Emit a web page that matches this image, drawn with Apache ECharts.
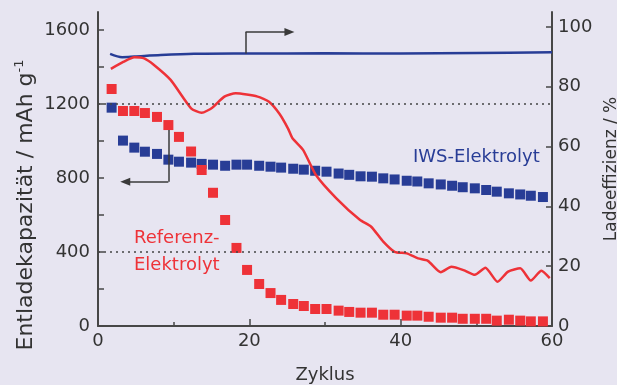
<!DOCTYPE html>
<html>
<head>
<meta charset="utf-8">
<script src="https://cdn.jsdelivr.net/npm/echarts@6/dist/echarts.min.js"></script>
<style>
html,body{margin:0;padding:0;background:#e7e5f1;}
#chart{width:617px;height:385px;}
</style>
</head>
<body>
<div id="chart"></div>
<script>
// ---- data ----
const squareCycles = [1.8,3.3,4.8,6.2,7.8,9.3,10.7,12.3,13.7,15.2,16.8,18.3,19.7,21.3,22.8,24.2,25.8,27.2,28.7,30.2,31.8,33.2,34.7,36.2,37.7,39.2,40.8,42.2,43.7,45.3,46.8,48.2,49.8,51.3,52.7,54.3,55.8,57.2,58.8];
const refCapacity = [1281,1162,1162,1151,1130,1086,1022,943,843,720,573,422,303,227,178,141,119,108,92,92,83,76,72,72,61,61,56,56,50,45,45,39,39,39,29,34,29,25,25];
const iwsCapacity = [1180,1002,964,942,930,899,888,883,876,872,866,872,872,866,861,856,850,845,839,834,824,817,809,807,798,792,785,781,771,765,758,750,744,735,726,717,711,704,697];

const iwsEffCycles = [1.6,3.2,4.8,8.3,12.7,20,30,40,50,60];
const iwsEfficiency = [91.0,89.9,90.1,90.6,91.0,91.1,91.2,91.1,91.3,91.5];

const refEffCycles = [1.7,3.4,4.8,6.1,7.4,9.6,12.3,13.7,15.1,16.7,18.2,21.1,22.6,24.0,25.1,25.7,27.1,28.8,31.5,34.6,36.1,37.7,39.2,40.8,42.3,43.6,45.3,46.7,48.3,49.8,51.2,52.8,54.2,55.8,57.2,58.6,59.7];
const refEfficiency = [86.0,88.4,89.9,89.5,87.3,82.3,72.8,71.3,73.0,76.7,77.8,76.7,75.0,70.9,66.1,62.8,58.9,50.5,42.7,35.5,33.2,28.2,24.8,24.3,22.6,21.8,18.0,19.8,18.7,17.1,19.5,14.8,18.2,19.3,15.2,18.5,16.0];

const xTickLabels = [0,20,40,60];
const leftTickLabels = [0,400,800,1200,1600];
const leftTickMarks = [0,200,400,600,800,1000,1200,1400,1600];
const rightTickLabels = [0,20,40,60,80,100];
const referenceLines = [1200,400];

// ---- styles ----
const RED = '#ee3238';
const BLUE = '#283d96';
const AXIS = '#474747';
const TEXT = '#333333';
const FONT = 'DejaVu Sans';

const pair = (xs, ys) => xs.map((x, i) => [x, ys[i]]);
const plain = v => String(v);

const chart = echarts.init(document.getElementById('chart'), null, {renderer: 'canvas'});
const option = {
  backgroundColor: '#e7e5f1',
  animation: false,
  grid: {left: 98, right: 65, top: 12, bottom: 59, outerBoundsMode: 'none', containLabel: false},
  xAxis: {
    type: 'value', min: 0, max: 60, interval: 20,
    axisLine: {lineStyle: {color: AXIS, width: 2}},
    axisTick: {inside: true, length: 7, lineStyle: {color: AXIS, width: 1.5}},
    minorTick: {show: true, splitNumber: 2, length: 4, lineStyle: {color: AXIS, width: 1.5}},
    splitLine: {show: false},
    axisLabel: {customValues: xTickLabels, formatter: plain, color: TEXT, fontSize: 18, fontFamily: FONT, margin: 6},
    name: 'Zyklus', nameLocation: 'middle', nameGap: 40,
    nameTextStyle: {color: TEXT, fontSize: 18, fontFamily: FONT}
  },
  yAxis: [
    {
      type: 'value', min: 0, max: 1697, position: 'left',
      axisLine: {show: true, lineStyle: {color: AXIS, width: 2}},
      axisTick: {show: true, inside: true, length: 6, customValues: leftTickMarks, lineStyle: {color: AXIS, width: 1.5}},
      axisLabel: {customValues: leftTickLabels, formatter: plain, color: TEXT, fontSize: 18, fontFamily: FONT, margin: 8},
      splitLine: {show: false}
    },
    {
      type: 'value', min: 0, max: 105, position: 'right',
      axisLine: {show: true, lineStyle: {color: AXIS, width: 2}},
      axisTick: {show: true, inside: true, length: 6, customValues: rightTickLabels, lineStyle: {color: AXIS, width: 1.5}},
      axisLabel: {customValues: rightTickLabels, formatter: plain, color: TEXT, fontSize: 18, fontFamily: FONT, margin: 6},
      splitLine: {show: false},
      name: 'Ladeeffizienz / %', nameLocation: 'middle', nameRotate: 90, nameGap: 50,
      nameTextStyle: {color: TEXT, fontSize: 17, fontFamily: FONT}
    }
  ],
  series: [
    {
      name: 'IWS capacity', type: 'scatter', yAxisIndex: 0,
      symbol: 'rect', symbolSize: 10, itemStyle: {color: BLUE, opacity: 1},
      data: pair(squareCycles, iwsCapacity),
      markLine: {
        silent: true, animation: false, label: {show: false},
        lineStyle: {color: '#3a3a3a', width: 1.5, type: 'solid'},
        data: [
          [{coord: [9.3, 1059], symbol: 'none'}, {coord: [9.3, 780], symbol: 'none'}],
          [{coord: [9.3, 780], symbol: 'none'}, {coord: [3.6, 780], symbol: 'triangle', symbolSize: [8, 10]}]
        ]
      }
    },
    {
      name: 'Referenz capacity', type: 'scatter', yAxisIndex: 0,
      symbol: 'rect', symbolSize: 10, itemStyle: {color: RED, opacity: 1},
      data: pair(squareCycles, refCapacity),
      markLine: {
        silent: true, animation: false, symbol: 'none', label: {show: false},
        lineStyle: {color: '#444', width: 1.5, type: [2, 4]},
        data: referenceLines.map(v => ({yAxis: v}))
      }
    },
    {
      name: 'IWS efficiency', type: 'line', yAxisIndex: 1,
      showSymbol: false, smooth: 0.3,
      lineStyle: {color: BLUE, width: 2.5}, itemStyle: {color: BLUE},
      data: pair(iwsEffCycles, iwsEfficiency),
      markLine: {
        silent: true, animation: false, label: {show: false},
        lineStyle: {color: '#3a3a3a', width: 1.5, type: 'solid'},
        data: [
          [{coord: [19.5, 91.1], symbol: 'none'}, {coord: [19.5, 98.3], symbol: 'none'}],
          [{coord: [19.5, 98.3], symbol: 'none'}, {coord: [25.3, 98.3], symbol: 'triangle', symbolSize: [8, 10]}]
        ]
      }
    },
    {
      name: 'Referenz efficiency', type: 'line', yAxisIndex: 1,
      showSymbol: false, smooth: 0.2,
      lineStyle: {color: RED, width: 2.5}, itemStyle: {color: RED},
      data: pair(refEffCycles, refEfficiency)
    }
  ],
  graphic: [
    {
      type: 'text', x: 26, y: 205, rotation: Math.PI / 2,
      style: {
        text: 'Entladekapazität / mAh g{sup|-1}',
        fill: TEXT, font: '22px "DejaVu Sans"', align: 'center', verticalAlign: 'middle',
        rich: {sup: {fontSize: 13, fontFamily: FONT, fill: TEXT, padding: [0, 0, 12, 0]}}
      }
    },
    {
      type: 'text', x: 413, y: 157,
      style: {text: 'IWS-Elektrolyt', fill: BLUE, font: '18px "DejaVu Sans"', align: 'left', verticalAlign: 'middle'}
    },
    {
      type: 'text', x: 134, y: 252,
      style: {text: 'Referenz-\nElektrolyt', fill: RED, font: '18px "DejaVu Sans"', lineHeight: 27, align: 'left', verticalAlign: 'middle'}
    }
  ]
};
chart.setOption(option);
</script>
</body>
</html>
